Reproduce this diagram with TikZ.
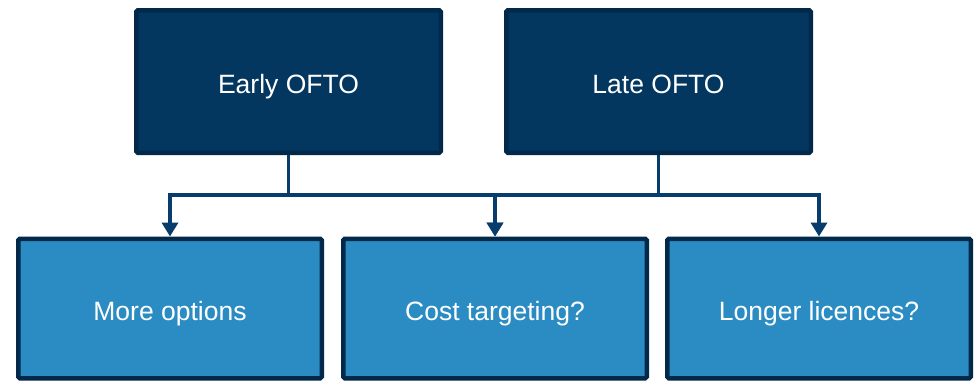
\documentclass[tikz,border=0pt]{standalone}
\usepackage{fontspec}
\setmainfont{Liberation Sans}
\usetikzlibrary{arrows.meta}
\definecolor{darkfill}{HTML}{03375F}
\definecolor{boxline}{HTML}{02294A}
\definecolor{lightfill}{HTML}{2B8CC3}
\definecolor{conn}{HTML}{063D6C}
\begin{document}
\begin{tikzpicture}[x=1pt,y=-1pt,
  boxbase/.style={draw=boxline, line width=4.5pt, rounded corners=1.5pt,
    inner sep=0pt, text=white, text height=23pt, text depth=0pt,
    font=\fontsize{26.5}{30}\selectfont},
  topbox/.style={boxbase, fill=darkfill, minimum width=304.5pt, minimum height=142.5pt},
  botbox/.style={boxbase, fill=lightfill, minimum width=303.5pt, minimum height=139.5pt},
  conn/.style={draw=conn, line width=3.5pt, -{Triangle[width=16pt,length=14pt]}}]
\useasboundingbox (0,0) rectangle (977,381);
\node[topbox] (early) at (288.5,81.5) {Early OFTO};
\node[topbox] (late) at (658.5,81.5) {Late OFTO};
\node[botbox] (mo) at (170,308.5) {More options};
\node[botbox] (ct) at (495,308.5) {Cost targeting?};
\node[botbox] (ll) at (819,308.5) {Longer licences?};
\coordinate (bus) at (0,195);
\draw[conn] (early.south) -- (early.south |- bus) -| (mo.north);
\draw[conn] (early.south) -- (early.south |- bus) -| (ct.north);
\draw[conn] (late.south) -- (late.south |- bus) -| (ct.north);
\draw[conn] (late.south) -- (late.south |- bus) -| (ll.north);
\end{tikzpicture}
\end{document}
